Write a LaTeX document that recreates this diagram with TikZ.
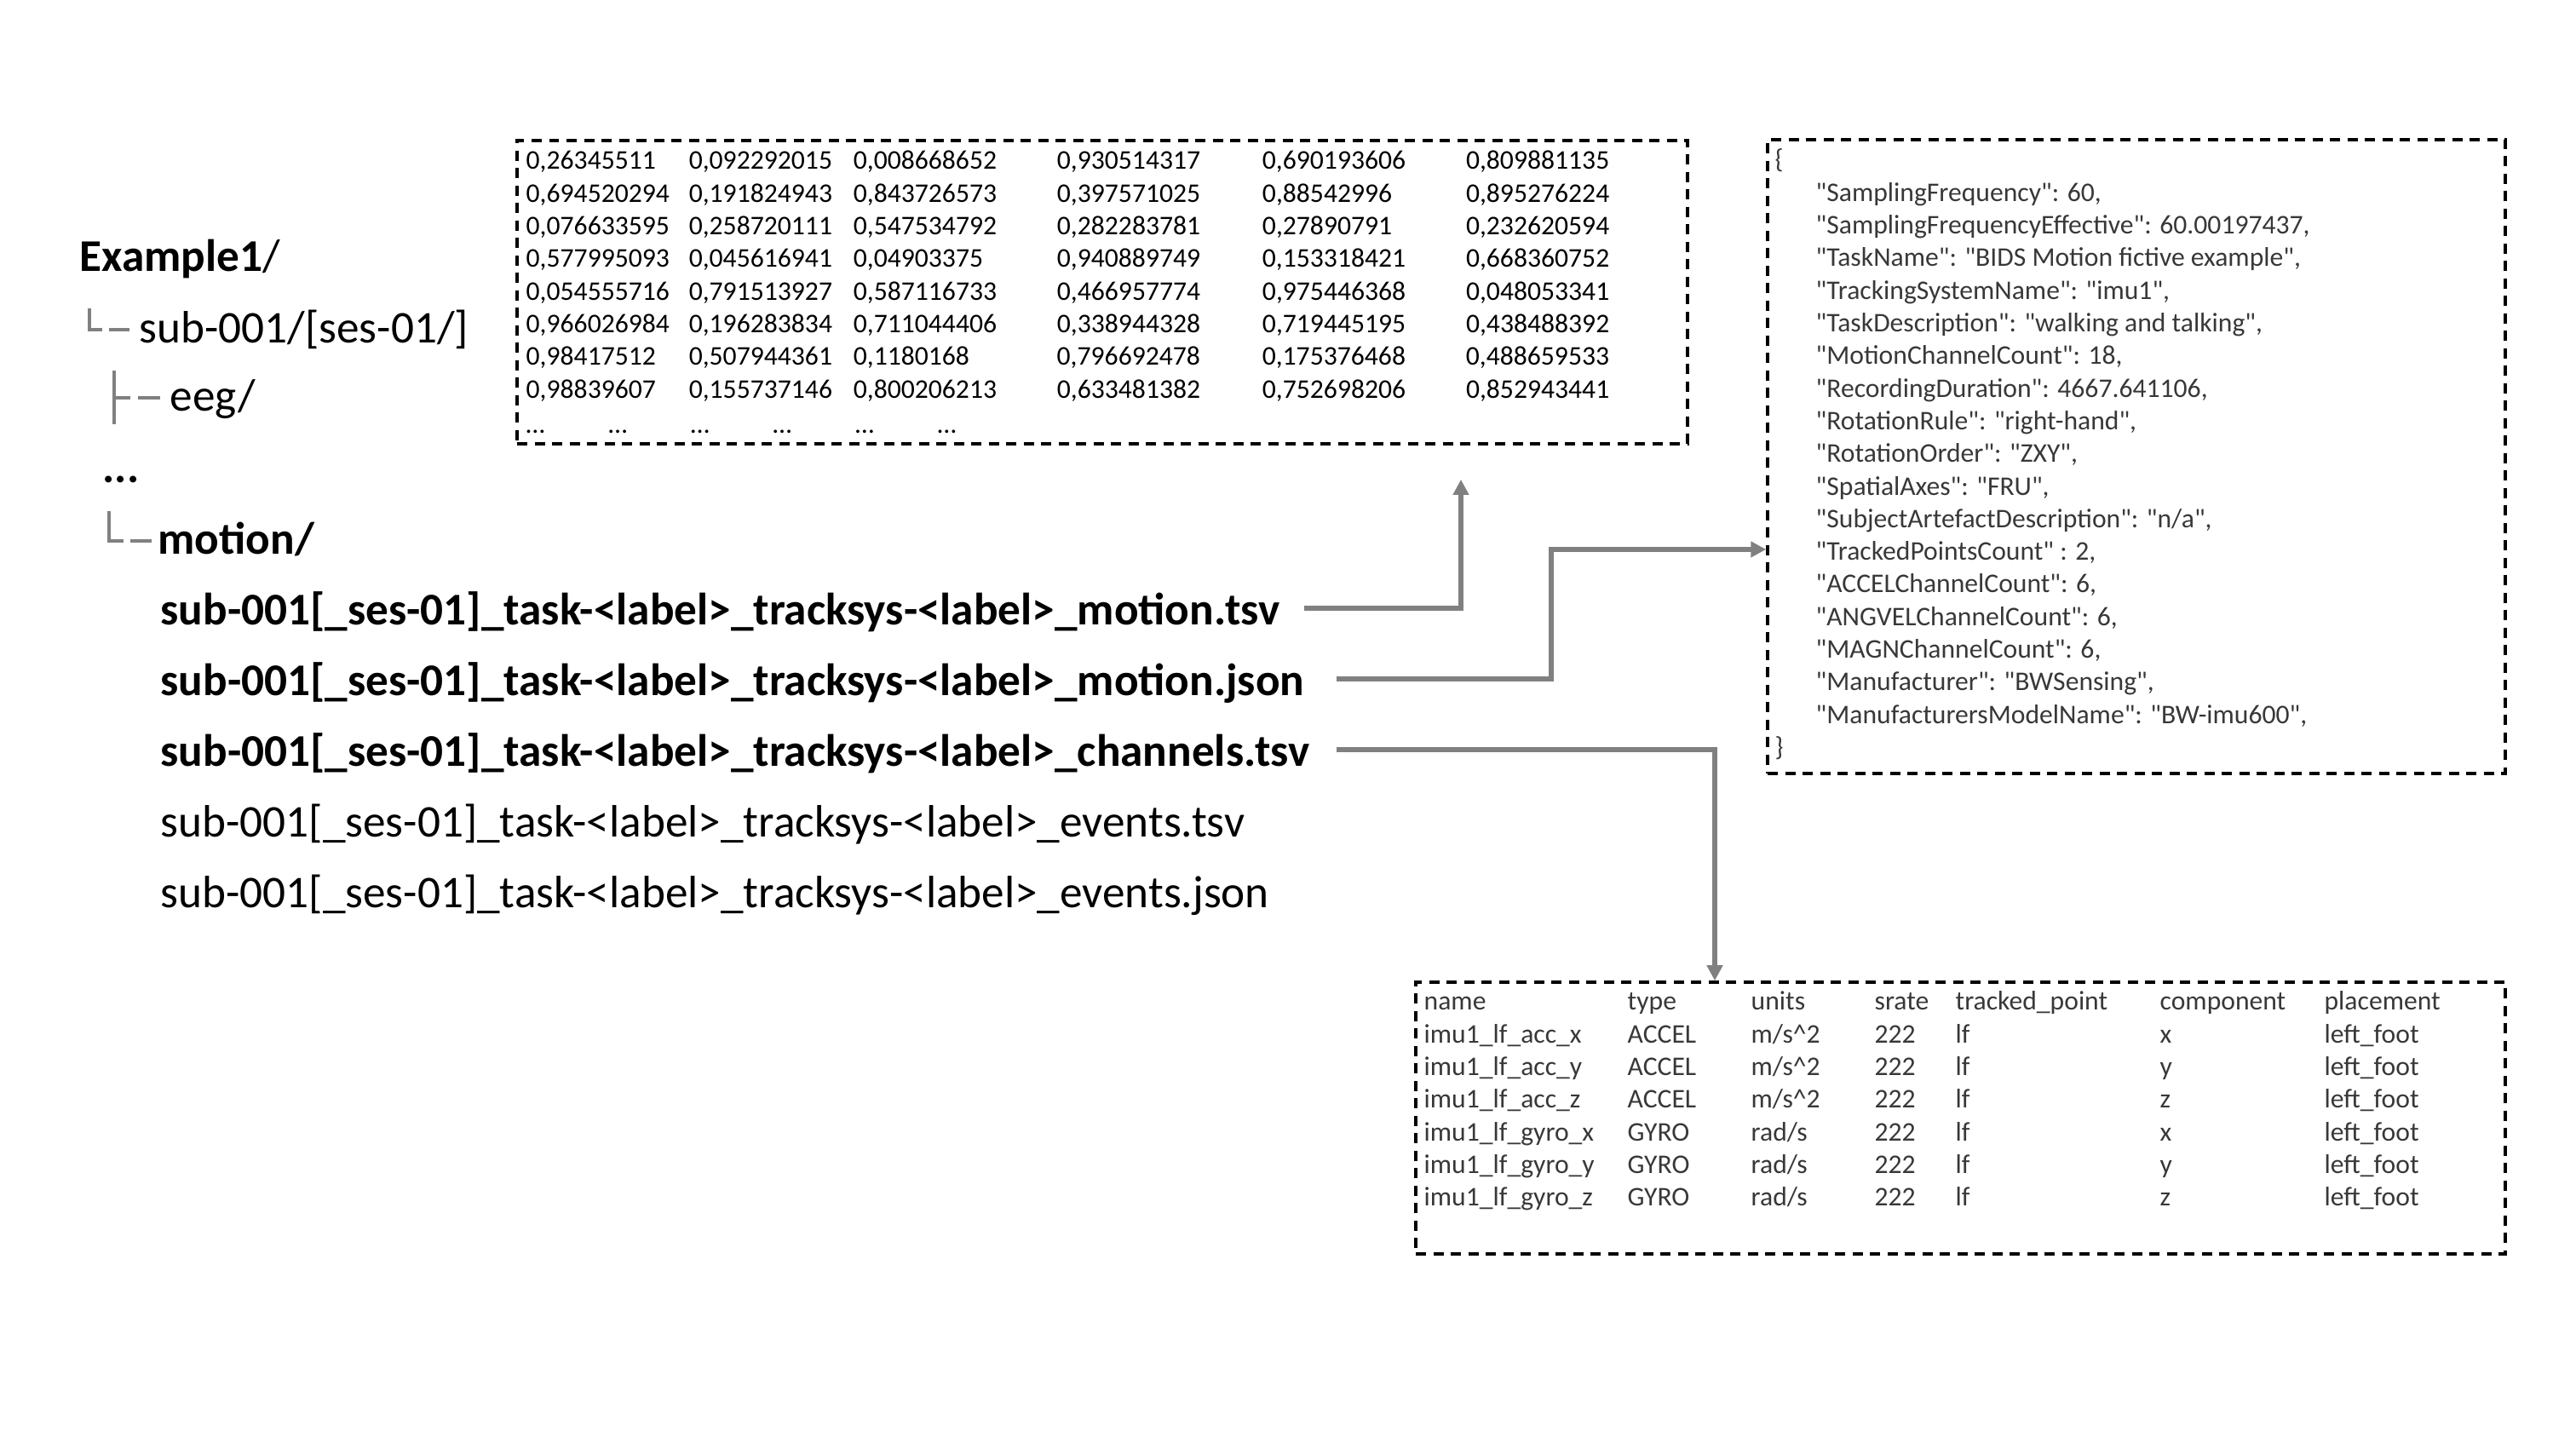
\documentclass[tikz,border=0pt]{standalone}
\usepackage{fontspec}
\setmainfont{Carlito}
\newfontfamily\jsonfont{Carlito}
\usetikzlibrary{arrows.meta}

\colorlet{linkgray}{black!50}
\colorlet{datagray}{black!78}

\begin{document}
\begin{tikzpicture}[
    filebox/.style={draw, line width=1pt, dash pattern=on 0.12cm off 0.085cm, inner sep=0pt},
    item/.style={anchor=base west, inner sep=0pt, font=\fontsize{15.15}{18}\selectfont},
    tabtext/.style={anchor=base west, inner sep=0pt, font=\fontsize{9}{10.9}\selectfont},
    treeline/.style={draw=linkgray, line width=0.95pt},
    pointer/.style={draw=linkgray, line width=1.5pt, -{Triangle[length=0.18cm, width=0.18cm]}}
  ]
    \useasboundingbox[fill=white] (0,0) rectangle (30.24,17.01);

    % --- LEFT: folder tree ---
    \node[item] (root) at (0.93, 13.82) {\textbf{Example1}/};
    \node[item] (sub) at (1.63, 12.98) {sub-001/[ses-01/]};
    \node[item] (eeg) at (1.99, 12.18) {eeg/};
    \node[item, font=\fontsize{15.15}{18}\selectfont\bfseries] (more) at (1.20, 11.34) {...};
    \node[item, font=\fontsize{15.15}{18}\selectfont\bfseries] (motion) at (1.85, 10.50) {motion/};

    % branch marks
    \draw[treeline] (1.05, 13.39) -- (1.05, 13.14) -- (1.20, 13.14);
    \draw[treeline] (1.28, 13.14) -- (1.52, 13.14);
    \draw[treeline] (1.34, 12.66) -- (1.34, 12.03);
    \draw[treeline] (1.34, 12.34) -- (1.53, 12.34);
    \draw[treeline] (1.62, 12.34) -- (1.88, 12.34);
    \draw[treeline] (1.28, 11.01) -- (1.28, 10.66) -- (1.45, 10.66);
    \draw[treeline] (1.53, 10.66) -- (1.78, 10.66);

    % files in motion/
    \node[item, font=\fontsize{15.15}{18}\selectfont\bfseries] (f1) at (1.88, 9.67) {sub-001[\_ses-01]\_task-<label>\_tracksys-<label>\_motion.tsv};
    \node[item, font=\fontsize{15.15}{18}\selectfont\bfseries] (f2) at (1.88, 8.84) {sub-001[\_ses-01]\_task-<label>\_tracksys-<label>\_motion.json};
    \node[item, font=\fontsize{15.15}{18}\selectfont\bfseries] (f3) at (1.88, 8.01) {sub-001[\_ses-01]\_task-<label>\_tracksys-<label>\_channels.tsv};
    \node[item] (f4) at (1.88, 7.18) {sub-001[\_ses-01]\_task-<label>\_tracksys-<label>\_events.tsv};
    \node[item] (f5) at (1.88, 6.35) {sub-001[\_ses-01]\_task-<label>\_tracksys-<label>\_events.json};

    % --- TOP: motion.tsv content ---
    \node[filebox, minimum width=13.74cm, minimum height=3.56cm] (motiontsv) at (12.94, 13.58) {};
    \node[tabtext] (tsvdata) at (6.17, 15.02) {\begin{tabular}[t]{@{}p{1.91cm}@{}p{1.93cm}@{}p{2.39cm}@{}p{2.41cm}@{}p{2.39cm}@{}l@{}}
      0,26345511 & 0,092292015 & 0,008668652 & 0,930514317 & 0,690193606 & 0,809881135\\
      0,694520294 & 0,191824943 & 0,843726573 & 0,397571025 & 0,88542996 & 0,895276224\\
      0,076633595 & 0,258720111 & 0,547534792 & 0,282283781 & 0,27890791 & 0,232620594\\
      0,577995093 & 0,045616941 & 0,04903375 & 0,940889749 & 0,153318421 & 0,668360752\\
      0,054555716 & 0,791513927 & 0,587116733 & 0,466957774 & 0,975446368 & 0,048053341\\
      0,966026984 & 0,196283834 & 0,711044406 & 0,338944328 & 0,719445195 & 0,438488392\\
      0,98417512 & 0,507944361 & 0,1180168 & 0,796692478 & 0,175376468 & 0,488659533\\
      0,98839607 & 0,155737146 & 0,800206213 & 0,633481382 & 0,752698206 & 0,852943441\\[0.8pt]
      \multicolumn{6}{@{}l@{}}{\makebox[0.966cm][l]{…}\makebox[0.966cm][l]{…}\makebox[0.966cm][l]{…}\makebox[0.966cm][l]{…}\makebox[0.966cm][l]{…}…}
    \end{tabular}};

    % --- RIGHT: motion.json content ---
    \node[filebox, minimum width=8.66cm, minimum height=7.44cm] (motionjson) at (25.08, 11.65) {};
    \node[tabtext, font=\fontsize{9}{10.9}\jsonfont, color=datagray] (jsondata) at (20.83, 15.03) {\begin{tabular}[t]{@{}l@{}}
      \{\\
      \hspace*{0.48cm}"SamplingFrequency": 60,\\
      \hspace*{0.48cm}"SamplingFrequencyEffective": 60.00197437,\\
      \hspace*{0.48cm}"TaskName": "BIDS Motion fictive example",\\
      \hspace*{0.48cm}"TrackingSystemName": "imu1",\\
      \hspace*{0.48cm}"TaskDescription": "walking and talking",\\
      \hspace*{0.48cm}"MotionChannelCount": 18,\\
      \hspace*{0.48cm}"RecordingDuration": 4667.641106,\\
      \hspace*{0.48cm}"RotationRule": "right-hand",\\
      \hspace*{0.48cm}"RotationOrder": "ZXY",\\
      \hspace*{0.48cm}"SpatialAxes": "FRU",\\
      \hspace*{0.48cm}"SubjectArtefactDescription": "n/a",\\
      \hspace*{0.48cm}"TrackedPointsCount" : 2,\\
      \hspace*{0.48cm}"ACCELChannelCount": 6,\\
      \hspace*{0.48cm}"ANGVELChannelCount": 6,\\
      \hspace*{0.48cm}"MAGNChannelCount": 6,\\
      \hspace*{0.48cm}"Manufacturer": "BWSensing",\\
      \hspace*{0.48cm}"ManufacturersModelName": "BW-imu600",\\
      \}
    \end{tabular}};

    % --- BOTTOM: channels.tsv content ---
    \node[filebox, minimum width=12.79cm, minimum height=3.19cm] (channelstsv) at (23.015, 3.885) {};
    \node[tabtext, color=datagray] (chandata) at (16.71, 5.15) {\begin{tabular}[t]{@{}p{2.39cm}@{}p{1.45cm}@{}p{1.45cm}@{}p{0.95cm}@{}p{2.40cm}@{}p{1.93cm}@{}l@{}}
      name & type & units & srate & tracked\_point & component & placement\\
      imu1\_lf\_acc\_x & ACCEL & m/s\textasciicircum2 & 222 & lf & x & left\_foot\\
      imu1\_lf\_acc\_y & ACCEL & m/s\textasciicircum2 & 222 & lf & y & left\_foot\\
      imu1\_lf\_acc\_z & ACCEL & m/s\textasciicircum2 & 222 & lf & z & left\_foot\\
      imu1\_lf\_gyro\_x & GYRO & rad/s & 222 & lf & x & left\_foot\\
      imu1\_lf\_gyro\_y & GYRO & rad/s & 222 & lf & y & left\_foot\\
      imu1\_lf\_gyro\_z & GYRO & rad/s & 222 & lf & z & left\_foot
    \end{tabular}};

    % --- connectors ---
    \coordinate (tsvtip) at (17.15, 11.38);
    \coordinate (jsonbend) at (18.21, 10.56);
    \coordinate (chanbend) at (20.13, 5.00);
    \draw[pointer] ([shift={(0.28,0.20)}]f1.base east) -| (tsvtip);
    \draw[pointer] ([shift={(0.37,0.20)}]f2.base east) -| (jsonbend) -- (jsonbend -| motionjson.west);
    \draw[pointer] ([shift={(0.31,0.20)}]f3.base east) -| (chanbend |- channelstsv.north);
  \end{tikzpicture}
\end{document}
